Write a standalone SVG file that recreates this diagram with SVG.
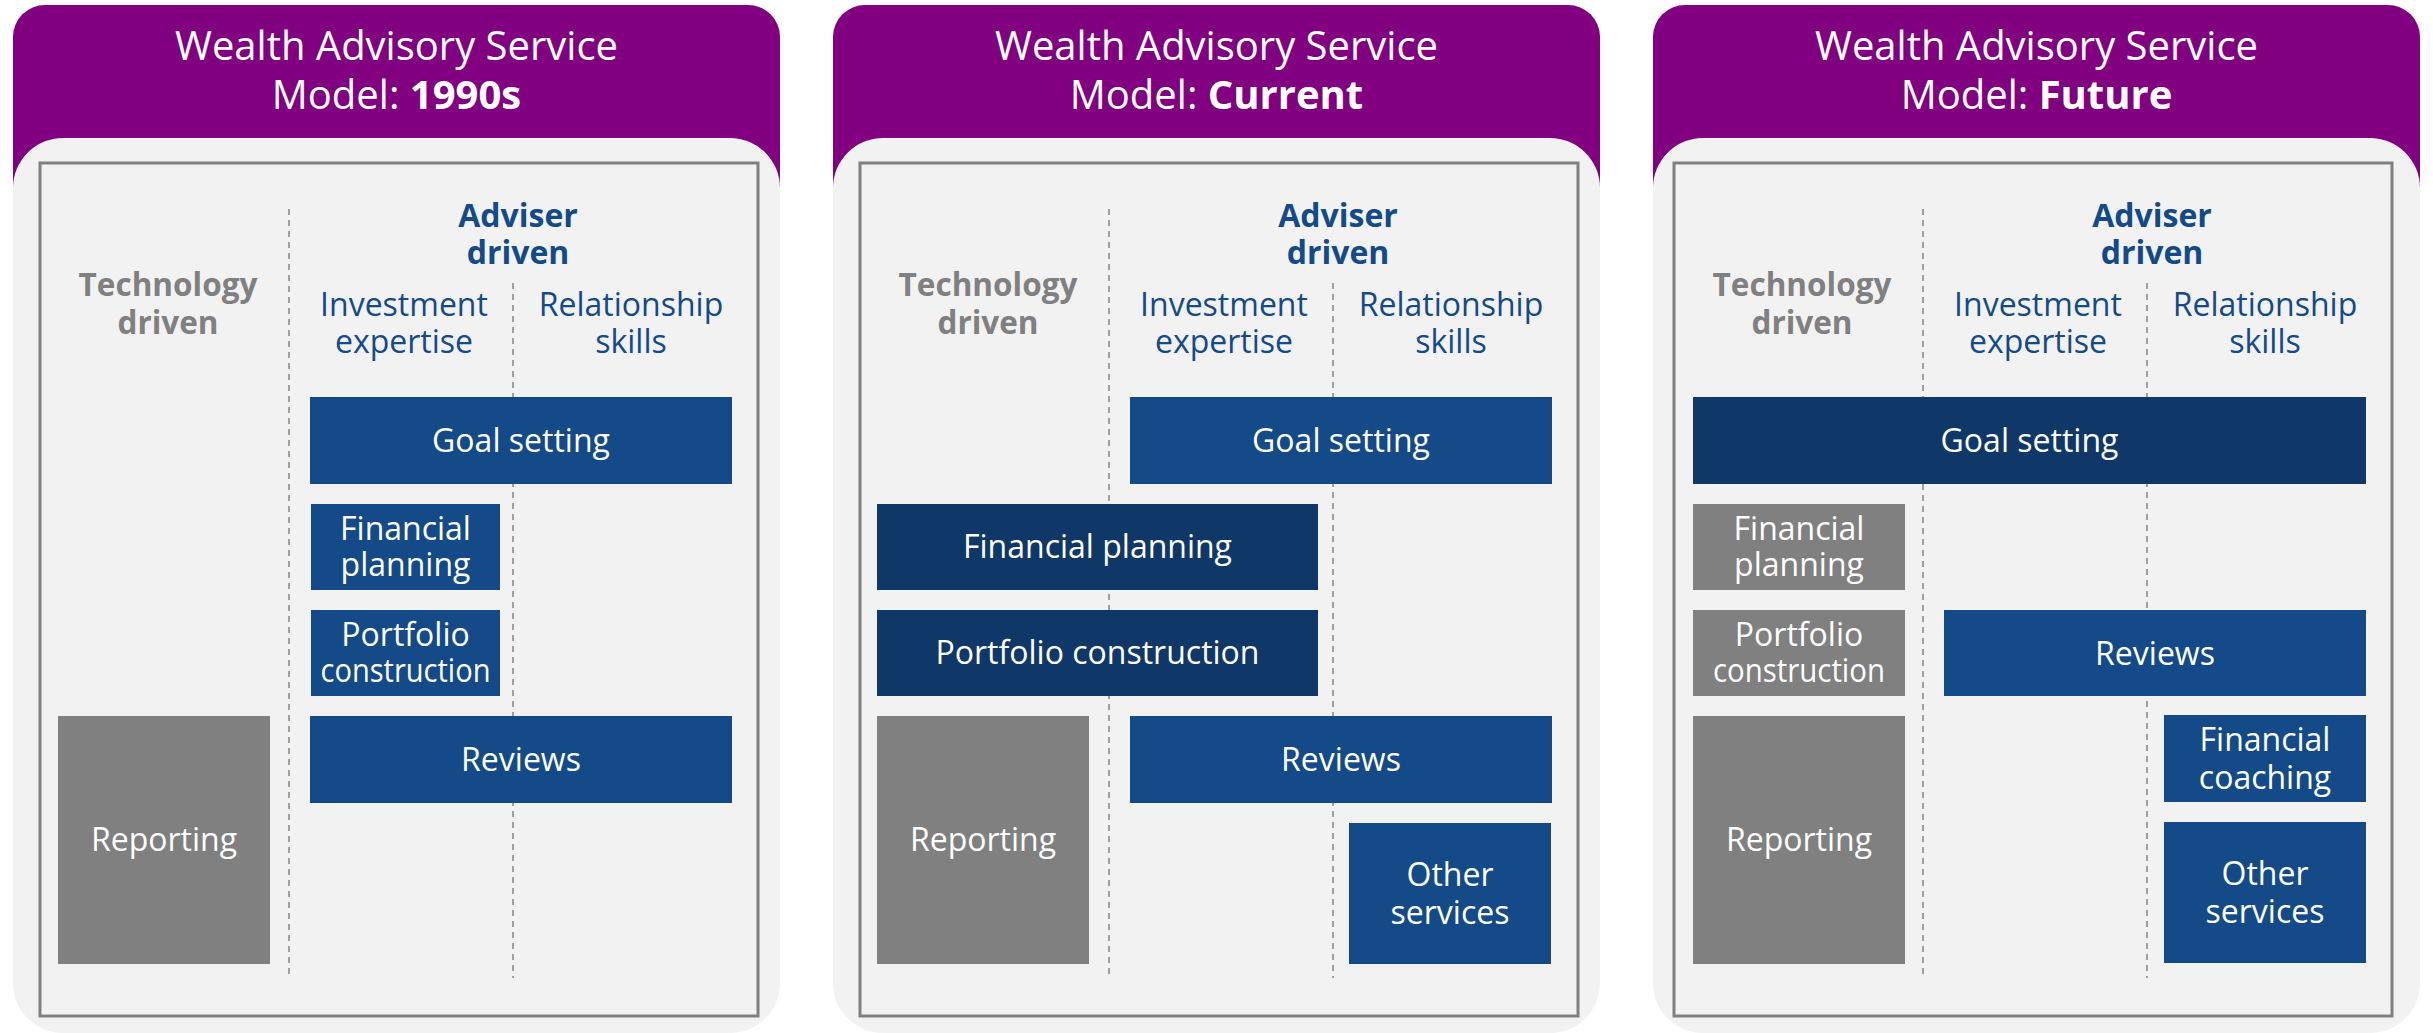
<svg xmlns="http://www.w3.org/2000/svg" width="2433" height="1033" viewBox="0 0 2433 1033">
<style>
text{font-family:"Open Sans","Noto Sans","Liberation Sans",sans-serif;text-anchor:middle}
.hdr{fill:#800080}
.body{fill:#F2F2F2}
.frame{fill:#F2F2F2;stroke:#808080;stroke-width:3}
.title{fill:#FFFFFF;font-size:40px}
.title .b{font-weight:bold}
.dash{stroke:#A0A0A0;stroke-width:2;stroke-dasharray:6 5;fill:none}
.tech{fill:#808080;font-size:31.5px;font-weight:bold}
.adv{fill:#134A87;font-size:32px;font-weight:bold}
.sub{fill:#134A87;font-size:32px}
.blue{fill:#134A87}
.navy{fill:#0F3767}
.grey{fill:#808080}
.lbl{fill:#FFFFFF;font-size:32px}
</style>
<defs>
<g id="bg">
<rect class="hdr" x="13" y="5" width="767" height="220" rx="32"/>
<rect class="body" x="13" y="138" width="767" height="895" rx="50"/>
</g>
<g id="grid">
<rect class="frame" x="40" y="163" width="718" height="853"/>
<line class="dash" x1="289" y1="209" x2="289" y2="978"/>
<line class="dash" x1="513" y1="283" x2="513" y2="978"/>
<text class="tech" x="168" y="296">Technology<tspan x="168" dy="38">driven</tspan></text>
<text class="adv" x="518" y="227">Adviser<tspan x="518" dy="37">driven</tspan></text>
<text class="sub" x="404" y="316">Investment<tspan x="404" dy="37">expertise</tspan></text>
<text class="sub" x="631" y="316">Relationship<tspan x="631" dy="37">skills</tspan></text>
</g>
</defs>

<g id="panel-1990s">
<use href="#bg"/>
<text class="title" x="396.5" y="60">Wealth Advisory Service<tspan x="396.5" dy="49">Model: </tspan><tspan class="b">1990s</tspan></text>
<use href="#grid"/>
<g id="p1-goal"><rect class="blue" x="310" y="397" width="422" height="87"/><text class="lbl" x="521" y="452">Goal setting</text></g>
<g id="p1-fp"><rect class="blue" x="311" y="504" width="189" height="86"/><text class="lbl" x="405.5" y="540">Financial<tspan x="405.5" dy="36">planning</tspan></text></g>
<g id="p1-pc"><rect class="blue" x="311" y="610" width="189" height="86"/><text class="lbl" x="405.5" y="646">Portfolio<tspan x="320.5" dy="36" textLength="170" lengthAdjust="spacingAndGlyphs" style="text-anchor:start">construction</tspan></text></g>
<g id="p1-reporting"><rect class="grey" x="58" y="716" width="212" height="248"/><text class="lbl" x="164" y="851">Reporting</text></g>
<g id="p1-reviews"><rect class="blue" x="310" y="716" width="422" height="87"/><text class="lbl" x="521" y="771">Reviews</text></g>
</g>

<g id="panel-current" transform="translate(820,0)">
<use href="#bg"/>
<text class="title" x="396.5" y="60">Wealth Advisory Service<tspan x="396.5" dy="49">Model: </tspan><tspan class="b">Current</tspan></text>
<use href="#grid"/>
<g id="p2-goal"><rect class="blue" x="310" y="397" width="422" height="87"/><text class="lbl" x="521" y="452">Goal setting</text></g>
<g id="p2-fp"><rect class="navy" x="57" y="504" width="441" height="86"/><text class="lbl" x="277.5" y="558">Financial planning</text></g>
<g id="p2-pc"><rect class="navy" x="57" y="610" width="441" height="86"/><text class="lbl" x="277.5" y="664">Portfolio construction</text></g>
<g id="p2-reporting"><rect class="grey" x="57" y="716" width="212" height="248"/><text class="lbl" x="163" y="851">Reporting</text></g>
<g id="p2-reviews"><rect class="blue" x="310" y="716" width="422" height="87"/><text class="lbl" x="521" y="771">Reviews</text></g>
<g id="p2-other"><rect class="blue" x="529" y="823" width="202" height="141"/><text class="lbl" x="630" y="886">Other<tspan x="630" dy="38">services</tspan></text></g>
</g>

<g id="panel-future">
<use href="#bg" transform="translate(1640,0)"/>
<g transform="translate(1634,0)">
<text class="title" x="402.5" y="60">Wealth Advisory Service<tspan x="402.5" dy="49">Model: </tspan><tspan class="b">Future</tspan></text>
<use href="#grid"/>
<g id="p3-goal"><rect class="navy" x="59" y="397" width="673" height="87"/><text class="lbl" x="395.5" y="452">Goal setting</text></g>
<g id="p3-fp"><rect class="grey" x="59" y="504" width="212" height="86"/><text class="lbl" x="165" y="540">Financial<tspan x="165" dy="36">planning</tspan></text></g>
<g id="p3-pc"><rect class="grey" x="59" y="610" width="212" height="86"/><text class="lbl" x="165" y="646">Portfolio<tspan x="79" dy="36" textLength="172" lengthAdjust="spacingAndGlyphs" style="text-anchor:start">construction</tspan></text></g>
<g id="p3-reviews"><rect class="blue" x="310" y="610" width="422" height="86"/><text class="lbl" x="521" y="665">Reviews</text></g>
<g id="p3-reporting"><rect class="grey" x="59" y="716" width="212" height="248"/><text class="lbl" x="165" y="851">Reporting</text></g>
<g id="p3-coaching"><rect class="blue" x="530" y="715" width="202" height="87"/><text class="lbl" x="631" y="751">Financial<tspan x="631" dy="38">coaching</tspan></text></g>
<g id="p3-other"><rect class="blue" x="530" y="822" width="202" height="141"/><text class="lbl" x="631" y="885">Other<tspan x="631" dy="38">services</tspan></text></g>
</g>
</g>
</svg>
